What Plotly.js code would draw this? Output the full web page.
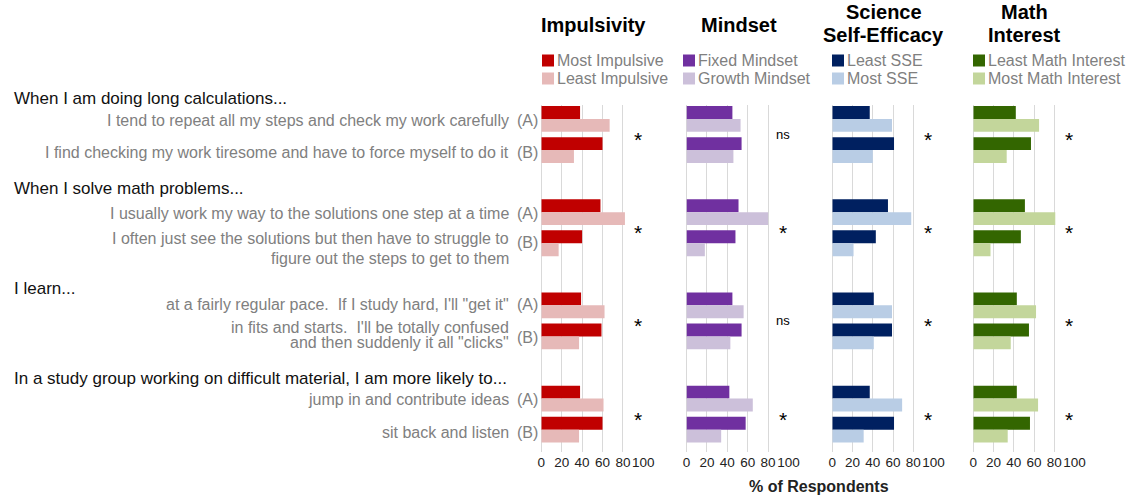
<!DOCTYPE html>
<html><head><meta charset="utf-8">
<script src="https://cdn.plot.ly/plotly-3.0.1.min.js"></script>
<style>html,body{margin:0;padding:0;background:#fff}</style>
</head><body><div id="chart" style="width:1139px;height:495px"></div>
<script>
// ---------- DATA ----------
const groupHeaders = [
  'When I am doing long calculations...',
  'When I solve math problems...',
  'I learn...',
  'In a study group working on difficult material, I am more likely to...'
];
const optionA = [
  ['I tend to repeat all my steps and check my work carefully'],
  ['I usually work my way to the solutions one step at a time'],
  ['at a fairly regular pace.\u00a0 If I study hard, I\'ll "get it"'],
  ['jump in and contribute ideas']
];
const optionB = [
  ['I find checking my work tiresome and have to force myself to do it'],
  ['I often just see the solutions but then have to struggle to', 'figure out the steps to get to them'],
  ['in fits and starts.\u00a0 I\'ll be totally confused', 'and then suddenly it all "clicks"'],
  ['sit back and listen']
];
const panelTitles = [['Impulsivity'], ['Mindset'], ['Science', 'Self-Efficacy'], ['Math', 'Interest']];
const seriesNames = [
  ['Most Impulsive', 'Least Impulsive'],
  ['Fixed Mindset', 'Growth Mindset'],
  ['Least SSE', 'Most SSE'],
  ['Least Math Interest', 'Most Math Interest']
];
// values in order: A1, B1, A2, B2, A3, B3, A4, B4
const impMost    = [38, 60, 58, 40, 39, 59, 38, 60];
const impLeast   = [67, 32, 82, 17, 62, 37, 61, 37];
const mindFixed  = [45, 54, 51, 48, 45, 54, 42, 58];
const mindGrowth = [53, 46, 80, 18, 56, 43, 65, 34];
const sseLeast   = [37, 61, 55, 43, 41, 59, 37, 61];
const sseMost    = [59, 40, 78, 21, 59, 41, 69, 31];
const mathLeast  = [42, 57, 51, 47, 43, 55, 43, 56];
const mathMost   = [65, 33, 81, 17, 62, 37, 64, 34];
const significance = [
  ['*', '*', '*', '*'],
  ['ns', '*', 'ns', '*'],
  ['*', '*', '*', '*'],
  ['*', '*', '*', '*']
];
const tickVals = [0, 20, 40, 60, 80, 100];
const axisTitle = '% of Respondents';

// ---------- STYLE / LAYOUT ----------
const W = 1139, H = 495, MT = 105, MB = 43;
const PH = H - MT - MB;
const FONT = 'Liberation Sans, Arial, sans-serif';
const colors = [
  ['#c00000', '#e6b9b8'],
  ['#7030a0', '#ccc0da'],
  ['#002060', '#b9cde5'],
  ['#336600', '#c3d69b']
];
const domainsPx = [[541.3, 643.3], [686.5, 788.5], [832.3, 933.5], [973.3, 1074.5]];
const px = v => v / W;
const py = v => (H - MB - v) / PH;

const panelData = [[impMost, impLeast], [mindFixed, mindGrowth], [sseLeast, sseMost], [mathLeast, mathMost]];
// positions: each group has A then B, with a gap between groups
const positions = [];
for (let g = 0; g < 4; g++) { positions.push(g * 3, g * 3 + 1); }

const traces = [];
const layout = {
  width: W, height: H,
  margin: {l: 0, r: 0, t: MT, b: MB, pad: 0},
  paper_bgcolor: '#fff', plot_bgcolor: 'rgba(0,0,0,0)',
  showlegend: false,
  barmode: 'group', bargap: 0.17, bargroupgap: 0,
  font: {family: FONT, color: '#222'},
  yaxis: {range: [10.72, -0.45], visible: false, fixedrange: true},
  annotations: [], shapes: []
};

panelData.forEach((pair, p) => {
  const xa = p === 0 ? 'x' : 'x' + (p + 1);
  const xaKey = p === 0 ? 'xaxis' : 'xaxis' + (p + 1);
  pair.forEach((vals, s) => {
    traces.push({
      type: 'bar', orientation: 'h', x: vals, y: positions,
      xaxis: xa, yaxis: 'y', name: seriesNames[p][s],
      marker: {color: colors[p][s], line: {width: 0}},
      hoverinfo: 'x+name'
    });
  });
  layout[xaKey] = {
    domain: [px(domainsPx[p][0]), px(domainsPx[p][1])],
    range: [0, 100], anchor: 'y',
    tickvals: tickVals, ticktext: tickVals.map(String), ticks: '',
    tickangle: 0,
    tickfont: {family: FONT, size: 13.5, color: '#222'},
    showgrid: true, gridcolor: '#d9d9d9', gridwidth: 1,
    zeroline: true, zerolinecolor: '#d9d9d9', zerolinewidth: 1,
    showline: false, fixedrange: true
  };
  // panel titles
  const cx = (domainsPx[p][0] + domainsPx[p][1]) / 2 + 1;
  const lines = panelTitles[p];
  const ys = lines.length === 1 ? [25] : [12, 35];
  lines.forEach((t, i) => {
    layout.annotations.push({
      xref: 'paper', yref: 'paper', x: px(cx), y: py(ys[i]),
      xanchor: 'center', yanchor: 'middle', showarrow: false,
      text: '<b>' + t + '</b>', font: {family: FONT, size: 20, color: '#000'}
    });
  });
  // legend swatches
  const lx = [542, 683, 832, 973][p];
  [60.5, 78.5].forEach((yc, s) => {
    layout.shapes.push({
      type: 'rect', xref: 'paper', yref: 'paper',
      x0: px(lx), x1: px(lx + 12), y0: py(yc - 6), y1: py(yc + 6),
      fillcolor: colors[p][s], line: {width: 0}
    });
    layout.annotations.push({
      xref: 'paper', yref: 'paper', x: px(lx + 13), y: py(yc),
      xanchor: 'left', yanchor: 'middle', showarrow: false,
      text: seriesNames[p][s], font: {family: FONT, size: 16, color: '#808080'}
    });
  });
  // significance marks
  significance[p].forEach((m, g) => {
    const isStar = m === '*';
    layout.annotations.push({
      xref: xa, yref: 'y', x: 95, y: g * 3 + 0.5,
      xanchor: 'center', yanchor: 'middle', showarrow: false,
      yshift: isStar ? -5 : 0,
      text: m, font: {family: FONT, size: isStar ? 21 : 13, color: '#000'}
    });
  });
});

// group headers
const headerY = [98, 188, 288, 378];
groupHeaders.forEach((t, g) => {
  layout.annotations.push({
    xref: 'paper', yref: 'paper', x: px(12), y: py(headerY[g]),
    xanchor: 'left', yanchor: 'middle', showarrow: false,
    text: t, font: {family: FONT, size: 17, color: '#111'}
  });
});
// row labels (pixel offsets of each text line from its bar-row centre)
const lineShiftA = [[2], [1], [-1], [1]];
const lineShiftB = [[2], [-5, 15], [-9, 6], [3]];
const tagShiftA = [2, 1, -1, 1];
const tagShiftB = [2, -1, 1, 3];
const pushLabel = (lines, tag, yv, shifts, tagShift) => {
  lines.forEach((t, i) => {
    layout.annotations.push({
      xref: 'paper', yref: 'y', x: px(511), y: yv, yshift: -shifts[i],
      xanchor: 'right', yanchor: 'middle', showarrow: false,
      text: t, font: {family: FONT, size: 16, color: '#808080'}
    });
  });
  layout.annotations.push({
    xref: 'paper', yref: 'y', x: px(515), y: yv, yshift: -tagShift,
    xanchor: 'left', yanchor: 'middle', showarrow: false,
    text: tag, font: {family: FONT, size: 16, color: '#808080'}
  });
};
for (let g = 0; g < 4; g++) {
  pushLabel(optionA[g], '(A)', g * 3, lineShiftA[g], tagShiftA[g]);
  pushLabel(optionB[g], '(B)', g * 3 + 1, lineShiftB[g], tagShiftB[g]);
}
// axis title
layout.annotations.push({
  xref: 'paper', yref: 'paper', x: px(819), y: py(486),
  xanchor: 'center', yanchor: 'middle', showarrow: false,
  text: '<b>' + axisTitle + '</b>', font: {family: FONT, size: 16, color: '#222'}
});

Plotly.newPlot('chart', traces, layout, {displayModeBar: false, staticPlot: true});
</script></body></html>
